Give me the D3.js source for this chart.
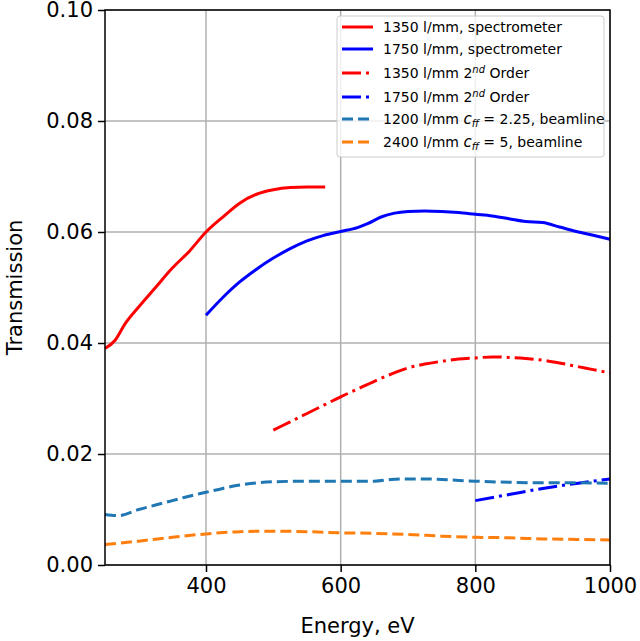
<!DOCTYPE html>
<html>
<head>
<meta charset="utf-8">
<script src="https://cdn.jsdelivr.net/npm/d3@7"></script>
<style>
  body { margin: 0; background: #fff; }
  text { font-family: "DejaVu Sans", sans-serif; }
</style>
</head>
<body>
<div id="chart"></div>
<script>
// energies (eV) and transmissions
var red1E = [250, 265, 280, 300, 325, 350, 375, 400, 425, 450, 475, 500, 525, 550, 577];
var red1T = [0.0390, 0.0405, 0.0435, 0.0465, 0.0500, 0.0535, 0.0565, 0.0600, 0.0627, 0.0652, 0.0668, 0.0676, 0.0680, 0.0681, 0.0681];

var blue1E = [400, 425, 450, 475, 500, 525, 550, 575, 600, 625, 640, 660, 680, 700, 725, 750, 775, 800, 825, 850, 875, 900, 925, 950, 975, 1000];
var blue1T = [0.0450, 0.0482, 0.0510, 0.0533, 0.0553, 0.0570, 0.0584, 0.0594, 0.0601, 0.0608, 0.0615, 0.0627, 0.0634, 0.0637, 0.0638, 0.0637, 0.0635, 0.0632, 0.0629, 0.0624, 0.0619, 0.0617, 0.0609, 0.0601, 0.0594, 0.0587];

var red2E = [500, 525, 550, 575, 600, 625, 650, 675, 700, 725, 750, 775, 800, 825, 850, 875, 900, 925, 950, 975, 1000];
var red2T = [0.0243, 0.0258, 0.0273, 0.0288, 0.0303, 0.0317, 0.0331, 0.0344, 0.0355, 0.0362, 0.0367, 0.0371, 0.0373, 0.0375, 0.0374, 0.0372, 0.0369, 0.0364, 0.0358, 0.0352, 0.0346];

var blue2E = [800, 850, 900, 950, 1000];
var blue2T = [0.0116, 0.0127, 0.0138, 0.0147, 0.0155];

var bl1200E = [250, 270, 300, 325, 350, 375, 400, 425, 450, 475, 500, 550, 600, 650, 675, 700, 725, 750, 800, 850, 900, 950, 1000];
var bl1200T = [0.0091, 0.0089, 0.0100, 0.0108, 0.0116, 0.0124, 0.0131, 0.0138, 0.0144, 0.0148, 0.0150, 0.0151, 0.0151, 0.0151, 0.0154, 0.0155, 0.0155, 0.0154, 0.0151, 0.0149, 0.0148, 0.0148, 0.0147];

var bl2400E = [250, 300, 350, 400, 450, 500, 550, 600, 650, 700, 750, 800, 850, 900, 950, 1000];
var bl2400T = [0.0037, 0.0043, 0.0050, 0.0056, 0.0060, 0.0061, 0.0060, 0.0058, 0.0057, 0.0055, 0.0052, 0.0050, 0.0049, 0.0047, 0.0046, 0.0045];

var xTicks = [400, 600, 800, 1000];
var yTicks = [0, 0.02, 0.04, 0.06, 0.08, 0.10];

var series = [
  {E: red1E, T: red1T, color: "#ff0000", dash: null, label: ["1350 l/mm, spectrometer"]},
  {E: blue1E, T: blue1T, color: "#0000ff", dash: null, label: ["1750 l/mm, spectrometer"]},
  {E: red2E, T: red2T, color: "#ff0000", dash: "19,5,3,5", label: ["1350 l/mm 2", "nd", " Order"]},
  {E: blue2E, T: blue2T, color: "#0000ff", dash: "19,5,3,5", label: ["1750 l/mm 2", "nd", " Order"]},
  {E: bl1200E, T: bl1200T, color: "#1f77b4", dash: "11,5", label: ["1200 l/mm ", "c", "ff", " = 2.25, beamline"]},
  {E: bl2400E, T: bl2400T, color: "#ff7f0e", dash: "11,5", label: ["2400 l/mm ", "c", "ff", " = 5, beamline"]}
];

var margin = {top: 10, right: 30, bottom: 76, left: 105};
var width = 640 - margin.left - margin.right;
var height = 641 - margin.top - margin.bottom;

var svg = d3.select("#chart")
    .append("svg")
    .attr("width", 640)
    .attr("height", 641)
    .append("g")
    .attr("transform", "translate(" + margin.left + "," + margin.top + ")");

var x = d3.scaleLinear().domain([250, 1000]).range([0, width]);
var y = d3.scaleLinear().domain([0, 0.1]).range([height, 0]);

// grid
svg.append("g").selectAll("line")
    .data(xTicks)
    .enter().append("line")
    .attr("x1", function(d) { return x(d); })
    .attr("x2", function(d) { return x(d); })
    .attr("y1", 0).attr("y2", height)
    .attr("stroke", "#b0b0b0").attr("stroke-width", 1.5);

svg.append("g").selectAll("line")
    .data(yTicks)
    .enter().append("line")
    .attr("y1", function(d) { return y(d); })
    .attr("y2", function(d) { return y(d); })
    .attr("x1", 0).attr("x2", width)
    .attr("stroke", "#b0b0b0").attr("stroke-width", 1.5);

var line = d3.line()
    .x(function(d) { return x(d[0]); })
    .y(function(d) { return y(d[1]); })
    .curve(d3.curveMonotoneX);

var plot = svg.append("g");
series.forEach(function(s) {
    var pts = s.E.map(function(e, i) { return [e, s.T[i]]; });
    plot.append("path")
        .datum(pts)
        .attr("d", line)
        .attr("fill", "none")
        .attr("stroke", s.color)
        .attr("stroke-width", 3)
        .attr("stroke-dasharray", s.dash);
});

// axes
var xAxis = svg.append("g")
    .attr("transform", "translate(0," + height + ")")
    .call(d3.axisBottom(x).tickValues(xTicks).tickSize(7).tickPadding(6).tickFormat(d3.format("d")));
var yAxis = svg.append("g")
    .call(d3.axisLeft(y).tickValues(yTicks).tickSize(7).tickPadding(5).tickFormat(d3.format(".2f")));

[xAxis, yAxis].forEach(function(a) {
    a.select(".domain").remove();
    a.selectAll("line").attr("stroke", "#000").attr("stroke-width", 1.5);
    a.selectAll("text").attr("font-size", 21).attr("fill", "#000")
        .attr("font-family", "DejaVu Sans");
});

// frame
svg.append("rect")
    .attr("width", width).attr("height", height)
    .attr("fill", "none").attr("stroke", "#000").attr("stroke-width", 1.5);

svg.append("text")
    .attr("x", width / 2)
    .attr("y", height + 68)
    .attr("text-anchor", "middle")
    .attr("font-size", 21)
    .text("Energy, eV");

svg.append("text")
    .attr("transform", "translate(" + (-83) + "," + (height / 2) + ") rotate(-90)")
    .attr("text-anchor", "middle")
    .attr("font-size", 21)
    .text("Transmission");

// legend
var lg = svg.append("g").attr("transform", "translate(232,6)");
lg.append("rect")
    .attr("width", 267).attr("height", 141)
    .attr("rx", 3)
    .attr("fill", "#fff").attr("fill-opacity", 0.8)
    .attr("stroke", "#cccccc").attr("stroke-width", 1);

var rowY = [11, 33, 57, 81, 103, 126];
series.forEach(function(s, i) {
    var row = lg.append("g").attr("transform", "translate(0," + rowY[i] + ")");
    row.append("line")
        .attr("x1", 5).attr("x2", 36)
        .attr("stroke", s.color).attr("stroke-width", 3)
        .attr("stroke-dasharray", s.dash);
    var t = row.append("text")
        .attr("x", 46).attr("y", 5)
        .attr("font-size", 14);
    if (s.label.length === 1) {
        t.text(s.label[0]);
    } else if (s.label.length === 3) {
        t.append("tspan").text(s.label[0]);
        t.append("tspan").attr("dy", -5).attr("font-size", 10).attr("font-style", "italic").text(s.label[1]);
        t.append("tspan").attr("dy", 5).text(s.label[2]);
    } else {
        t.append("tspan").text(s.label[0]);
        t.append("tspan").attr("font-style", "italic").attr("font-size", 15).text(s.label[1]);
        t.append("tspan").attr("dy", 3).attr("font-size", 10).attr("font-style", "italic").text(s.label[2]);
        t.append("tspan").attr("dy", -3).text(s.label[3]);
    }
});
</script>
</body>
</html>
